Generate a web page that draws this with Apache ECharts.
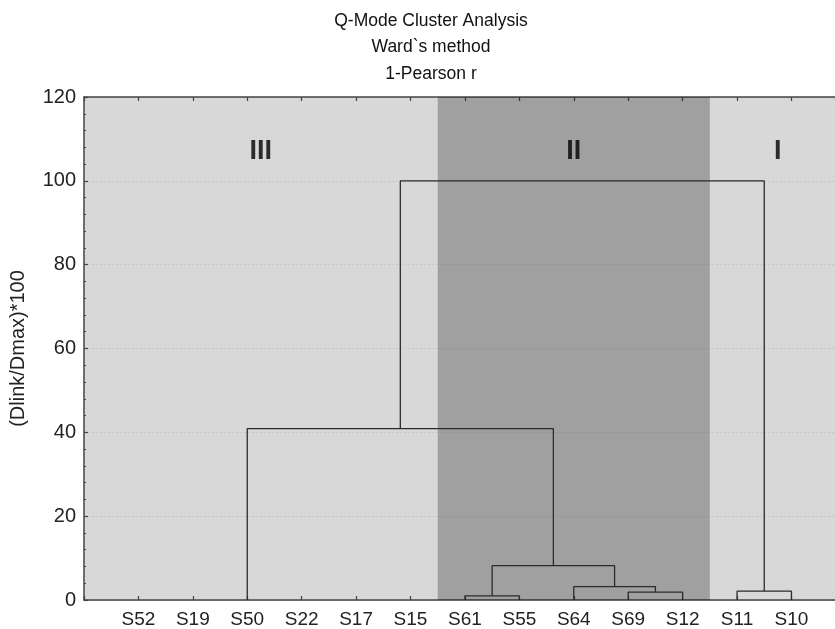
<!DOCTYPE html>
<html>
<head>
<meta charset="utf-8">
<script src="https://cdn.jsdelivr.net/npm/echarts@6/dist/echarts.min.js"></script>
<style>
html,body{margin:0;padding:0;background:#fff;}
#c{width:835px;height:629px;}
</style>
</head>
<body>
<div id="c"></div>
<script>
// ---- data ----
const leaves = ['S52','S19','S50','S22','S17','S15','S61','S55','S64','S69','S12','S11','S10'];
// links: link i creates node 'L'+i
const linkLeft   = ['S61','S69','S64','L0','S11','S50','L5'];
const linkRight  = ['S55','S12','L1','L2','S10','L3','L4'];
const linkHeight = [1.0, 1.9, 3.2, 8.2, 2.1, 40.9, 100];
const clusterNames = ['III','II','I'];
const clusterX = [3.25, 9, 12.75];
const clusterY = [107, 107, 107];
const bandStart = 6.5, bandEnd = 11.5; // cluster II shading (axis units)
const titleLines = ['Q-Mode Cluster Analysis', 'Ward`s method', '1-Pearson r'];
const yTicks = [0, 20, 40, 60, 80, 100, 120];

// ---- build node positions ----
const nodes = {};
leaves.forEach((n, i) => { nodes[n] = {x: i + 1, h: 0}; });
const linkSeries = [];
linkLeft.forEach((l, i) => {
  const a = nodes[l], b = nodes[linkRight[i]], h = linkHeight[i];
  nodes['L' + i] = {x: (a.x + b.x) / 2, h: h};
  linkSeries.push({
    type: 'line', symbol: 'none', silent: true, animation: false, z: 5,
    lineStyle: {color: '#2b2b2b', width: 1.3},
    data: [[a.x, a.h], [a.x, h], [b.x, h], [b.x, b.h]]
  });
});

const chart = echarts.init(document.getElementById('c'));
const font = 'Liberation Sans, Arial, sans-serif';
chart.setOption({
  backgroundColor: '#fff',
  animation: false,
  graphic: titleLines.map((t, i) => ({
    type: 'text', x: 431, y: 21 + i * 26.5,
    style: {text: t, fill: '#111', font: '17.5px ' + font, textAlign: 'center', textVerticalAlign: 'middle'}
  })),
  grid: {left: 83, top: 97, right: 0, bottom: 27, show: true, backgroundColor: '#d8d8d8', borderWidth: 0},
  xAxis: [{
    type: 'value', min: 0, max: 13.8, interval: 1, position: 'bottom',
    axisLine: {lineStyle: {color: '#444', width: 1.5}},
    axisTick: {inside: true, length: 4, lineStyle: {color: '#444', width: 1.2}},
    axisLabel: {margin: 10, fontSize: 19, color: '#222', fontFamily: font,
      showMaxLabel: false, formatter: v => leaves[v - 1] || ''},
    splitLine: {show: false}
  }, {
    type: 'value', min: 0, max: 13.8, interval: 1, position: 'top',
    axisLine: {lineStyle: {color: '#444', width: 1.5}},
    axisTick: {inside: true, length: 4, lineStyle: {color: '#444', width: 1.2}},
    axisLabel: {show: false},
    splitLine: {show: false}
  }],
  yAxis: {
    type: 'value', min: yTicks[0], max: yTicks[yTicks.length - 1], interval: 20,
    name: '(Dlink/Dmax)*100', nameLocation: 'middle', nameGap: 56,
    nameTextStyle: {fontSize: 20, color: '#222', fontFamily: font},
    axisLine: {show: true, lineStyle: {color: '#444', width: 1.5}},
    axisTick: {show: true, inside: true, length: 4, lineStyle: {color: '#444', width: 1.2}},
    minorTick: {show: true, splitNumber: 5, length: 2, lineStyle: {color: '#444', width: 1.2}},
    axisLabel: {margin: 8, fontSize: 20, color: '#222', fontFamily: font},
    splitLine: {show: true, lineStyle: {color: '#c6c6c6', type: [2, 2], width: 1}}
  },
  series: [{
    type: 'scatter', symbolSize: 0, silent: true, z: 6,
    data: clusterNames.map((n, i) => ({value: [clusterX[i], clusterY[i]], name: n})),
    label: {show: true, position: 'inside', formatter: p => p.name, fontSize: 27, fontWeight: 'bold', color: '#000', fontFamily: font},
    markArea: {
      silent: true,
      itemStyle: {color: 'rgba(0,0,0,0.26)'},
      data: [[{xAxis: bandStart}, {xAxis: bandEnd}]]
    }
  }].concat(linkSeries)
});
</script>
</body>
</html>
